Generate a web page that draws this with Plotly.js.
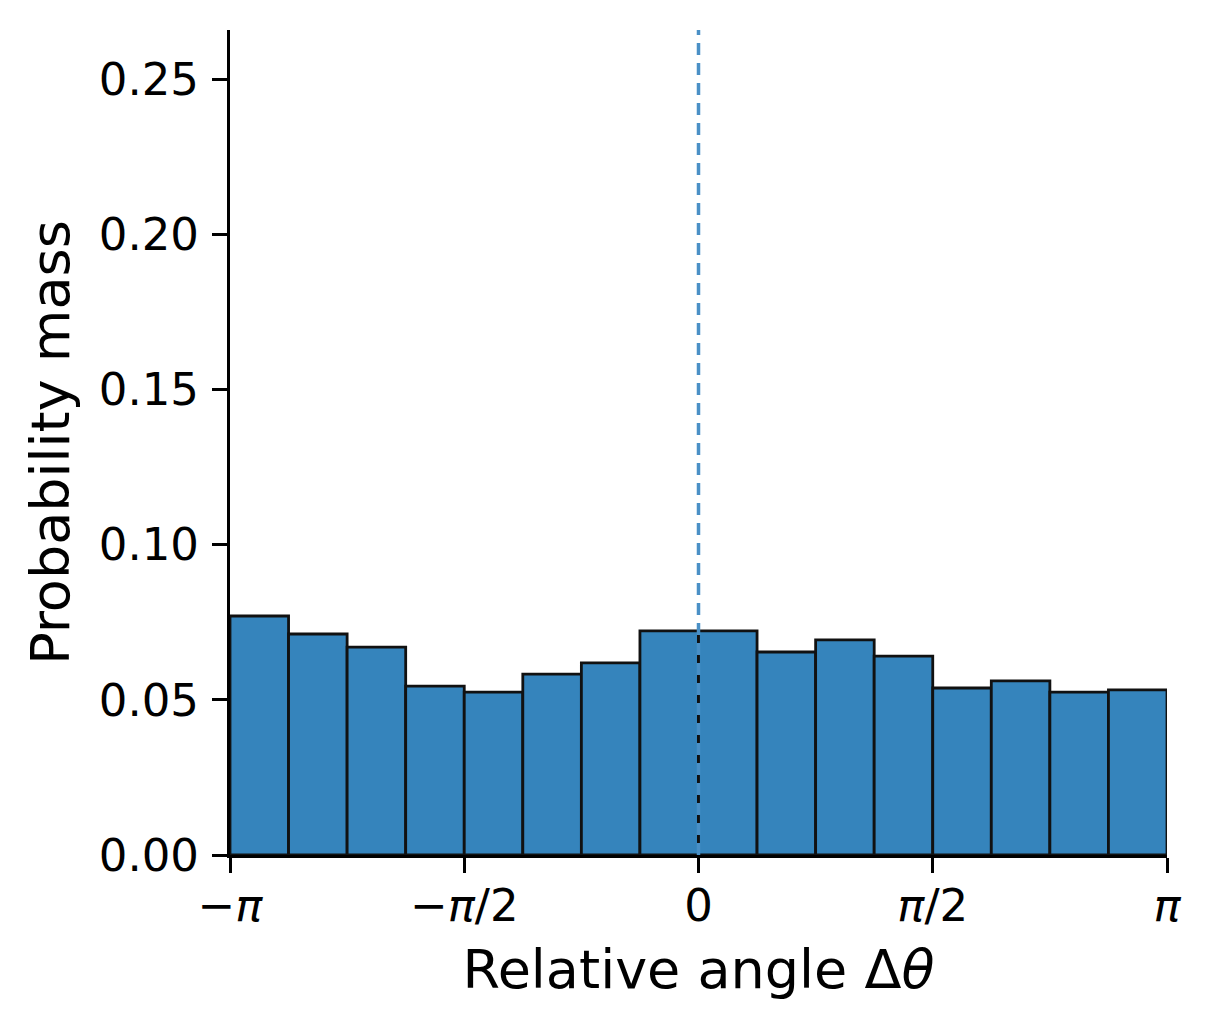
<!DOCTYPE html>
<html>
<head>
<meta charset="utf-8">
<script src="https://cdn.plot.ly/plotly-3.0.1.min.js"></script>
<style>
  html, body { margin: 0; padding: 0; background: #fff; }
  #plotter { width: 1213px; height: 1032px; }
</style>
</head>
<body>
<div id="plotter"></div>
<script>
// histogram of relative angle, 16 bins over [-pi, pi]
var nBins = 16;
var binMass = [0.0770, 0.0712, 0.0670, 0.0544, 0.0525, 0.0583, 0.0619, 0.0722,
               0.0722, 0.0654, 0.0693, 0.0641, 0.0538, 0.0561, 0.0525, 0.0532];
var tickVals = [-Math.PI, -Math.PI / 2, 0, Math.PI / 2, Math.PI];
var tickText = ['\u2212<i>\u03c0</i>', '\u2212<i>\u03c0</i>/2', '0', '<i>\u03c0</i>/2', '<i>\u03c0</i>'];
var yTicks = [0, 0.05, 0.10, 0.15, 0.20, 0.25];

var binWidth = 2 * Math.PI / nBins;
var centers = [];
for (var i = 0; i < nBins; i++) {
    centers.push(-Math.PI + binWidth * (i + 0.5));
}

var plots = [{
    type: 'bar',
    x: centers,
    y: binMass,
    width: binWidth,
    marker: {
        color: '#3584bc',
        line: { color: '#111111', width: 2.8 }
    },
    hoverinfo: 'none'
}];

var font = 'DejaVu Sans, sans-serif';

var layout = {
    width: 1213,
    height: 1032,
    showlegend: false,
    paper_bgcolor: '#ffffff',
    plot_bgcolor: '#ffffff',
    bargap: 0,
    font: { family: font, color: '#000000', size: 45 },
    margin: { l: 230, r: 46, t: 30, b: 177, pad: 0 },
    xaxis: {
        range: [-Math.PI, Math.PI],
        tickvals: tickVals,
        ticktext: tickText,
        showgrid: false,
        zeroline: false,
        showline: true,
        linecolor: '#000000',
        linewidth: 3,
        ticks: 'outside',
        ticklen: 15,
        tickwidth: 3,
        tickcolor: '#000000',
        ticklabelstandoff: -6,
        tickfont: { family: font, size: 45 },
        title: { text: 'Relative angle \u0394<i>\u03b8</i>', font: { family: font, size: 54 }, standoff: 20 }
    },
    yaxis: {
        range: [0, 0.2658],
        tickvals: yTicks,
        tickformat: '.2f',
        showgrid: false,
        zeroline: false,
        showline: true,
        linecolor: '#000000',
        linewidth: 3,
        ticks: 'outside',
        ticklen: 15,
        tickwidth: 3,
        tickcolor: '#000000',
        ticklabelstandoff: 4,
        tickfont: { family: font, size: 45 },
        title: { text: 'Probability mass', font: { family: font, size: 54 }, standoff: 12 }
    },
    shapes: [{
        type: 'line',
        layer: 'above',
        xref: 'x', yref: 'y domain',
        x0: 0, x1: 0, y0: 0, y1: 1,
        line: { color: '#4a90c6', width: 3.5, dash: '12px,8px' }
    }]
};

Plotly.newPlot('plotter', plots, layout, { staticPlot: true });
</script>
</body>
</html>
